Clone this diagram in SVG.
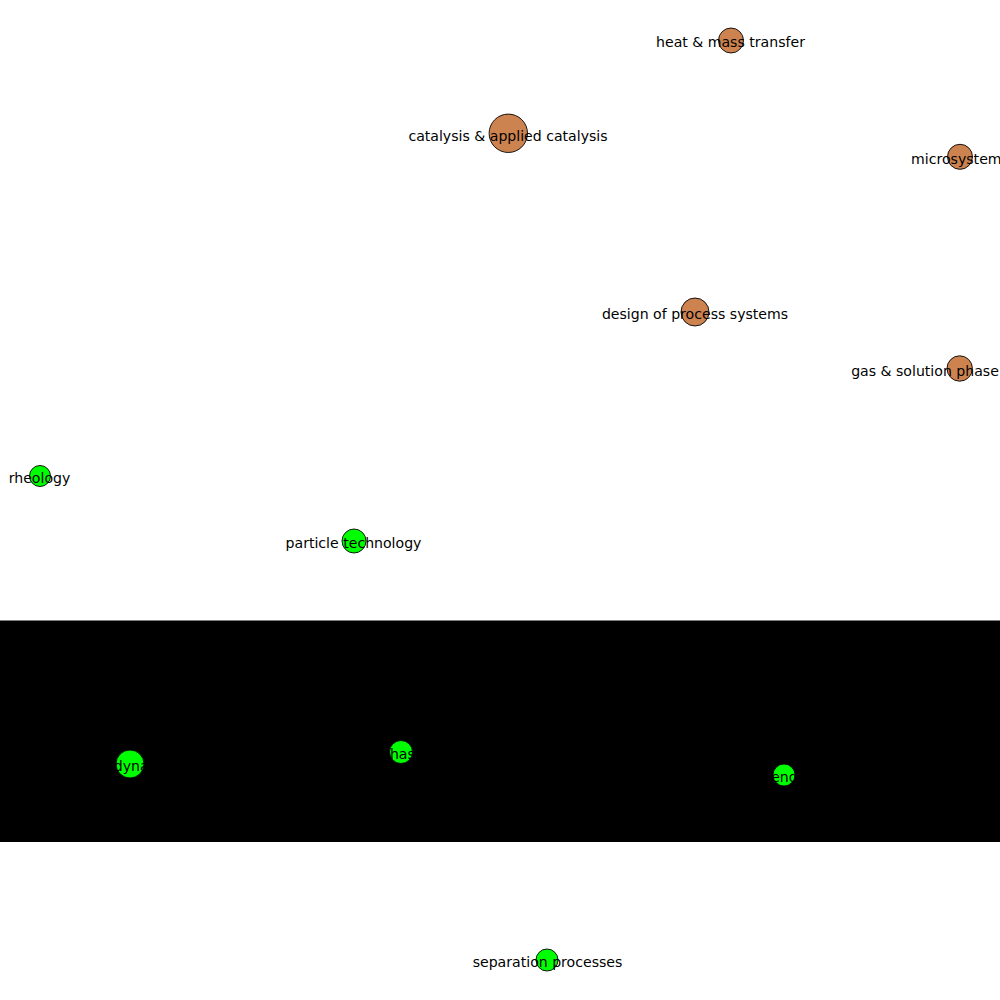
<svg xmlns="http://www.w3.org/2000/svg" width="1000" height="1000" viewBox="0 0 1000 1000">
<style>
text{font-family:"DejaVu Sans","Liberation Sans",sans-serif;font-size:14.1px;fill:#000;text-anchor:middle}
.o{fill:#cd8350;stroke:#000;stroke-width:0.9}
.g{fill:#00ff00;stroke:#000;stroke-width:0.9}
</style>
<rect x="0" y="0" width="1000" height="1000" fill="#fff"/>
<rect id="band" x="0" y="620.5" width="1000" height="221.5" fill="#000"/>
<g id="connectors"></g>
<g id="n-heat"><circle class="o" cx="731" cy="40.5" r="12.5"/><text x="730.5" y="47.3">heat &amp; mass transfer</text></g>
<g id="n-catalysis"><circle class="o" cx="508.3" cy="133.3" r="19.2"/><text x="508" y="140.5">catalysis &amp; applied catalysis</text></g>
<g id="n-micro"><circle class="o" cx="960" cy="156.8" r="12.5"/><text x="960" y="164">microsystems</text></g>
<g id="n-design"><circle class="o" cx="695" cy="312" r="14"/><text x="695" y="319.3">design of process systems</text></g>
<g id="n-gas"><circle class="o" cx="959.7" cy="368.5" r="12.7"/><text x="959.7" y="375.8">gas &amp; solution phase reactions</text></g>
<g id="n-rheology"><circle class="g" cx="40" cy="476" r="10.5"/><text x="39.5" y="483.3">rheology</text></g>
<g id="n-particle"><circle class="g" cx="354" cy="541" r="12"/><text x="353.5" y="548.3">particle technology</text></g>
<g id="n-fluid"><circle class="g" cx="130" cy="764" r="14"/><text x="130" y="771.3">fluid dynamics</text></g>
<g id="n-phase"><circle class="g" cx="401" cy="752" r="11.5"/><text x="401" y="759.3">multiphase flow</text></g>
<g id="n-eng"><circle class="g" cx="784" cy="775" r="11"/><text x="784" y="782.3">process engineering</text></g>
<g id="n-separation"><circle class="g" cx="547" cy="960" r="11"/><text x="547.5" y="967.3">separation processes</text></g>
</svg>
